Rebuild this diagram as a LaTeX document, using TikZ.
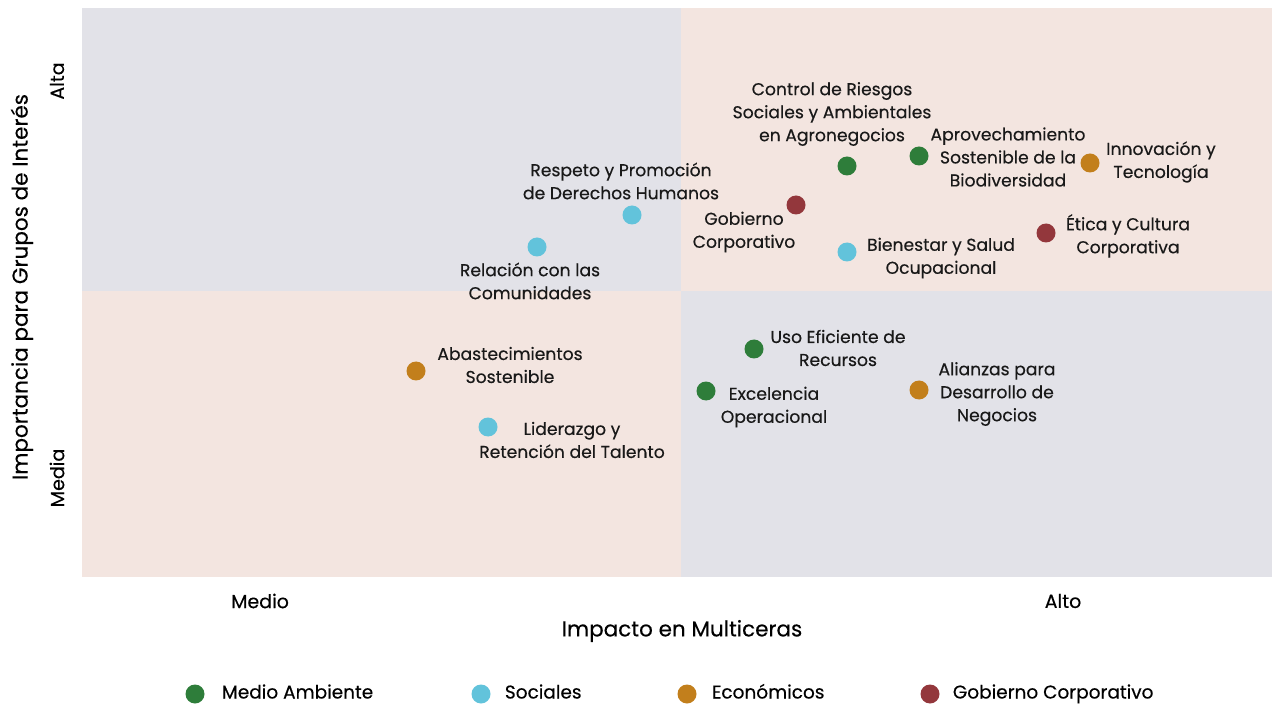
\documentclass[tikz,border=0pt]{standalone}
\usepackage{fontspec}
\setmainfont{Poppins}[FakeBold=0.35]
\usetikzlibrary{positioning}

\definecolor{ambiente}{HTML}{2E7D3A}
\definecolor{sociales}{HTML}{62C3DB}
\definecolor{economicos}{HTML}{C27F1C}
\definecolor{gobierno}{HTML}{93373C}
\definecolor{grisfondo}{HTML}{E2E2E8}
\definecolor{rosafondo}{HTML}{F3E5E0}

\begin{document}
\begin{tikzpicture}[
    x=1pt, y=-1pt,
    dot/.style={circle, fill=#1, minimum size=19pt, inner sep=0pt},
    tema/.style={align=center, font=\fontsize{17.2}{23}\selectfont, inner sep=0pt, text=black!90},
    eje/.style={font=\fontsize{19}{22}\selectfont, inner sep=0pt},
    leyenda/.style={font=\fontsize{18.5}{22}\selectfont, inner sep=0pt, text height=13.5pt, text depth=4.5pt},
    titulo/.style={font=\fontsize{21.5}{26}\selectfont, inner sep=0pt}
]

    \useasboundingbox (0,0) rectangle (1274,708);

    % Quadrants
    \fill[grisfondo] (82,8) rectangle (681,291);
    \fill[rosafondo] (681,8) rectangle (1272,291);
    \fill[rosafondo] (82,291) rectangle (681,577);
    \fill[grisfondo] (681,291) rectangle (1272,577);

    % Nodes
    \node[dot=ambiente] (riesgos) at (847,166) {};
    \node[dot=ambiente] (biodiv) at (919,156) {};
    \node[dot=economicos] (innov) at (1090,163) {};
    \node[dot=gobierno] (gobcorp) at (796,205) {};
    \node[dot=gobierno] (etica) at (1046,233) {};
    \node[dot=sociales] (bienestar) at (847,252) {};
    \node[dot=sociales] (ddhh) at (632,215) {};
    \node[dot=sociales] (comunid) at (537,247) {};
    \node[dot=economicos] (abast) at (416,371) {};
    \node[dot=sociales] (talento) at (488,427) {};
    \node[dot=ambiente] (recursos) at (754,349) {};
    \node[dot=ambiente] (excel) at (706,391) {};
    \node[dot=economicos] (alianzas) at (919,390) {};

    % Labels
    \node[tema] (riesgos_lbl) at (832,114) {Control de Riesgos\\Sociales y Ambientales\\en Agronegocios};
    \node[tema] (biodiv_lbl) at (1008,157) {Aprovechamiento\\Sostenible de la\\Biodiversidad};
    \node[tema] (innov_lbl) at (1161,162) {Innovación y\\Tecnología};
    \node[tema] (gobcorp_lbl) at (744,232) {Gobierno\\Corporativo};
    \node[tema] (etica_lbl) at (1128,236) {Ética y Cultura\\Corporativa};
    \node[tema] (bienestar_lbl) at (941,258) {Bienestar y Salud\\Ocupacional};
    \node[tema] (ddhh_lbl) at (621,181) {Respeto y Promoción\\de Derechos Humanos};
    \node[tema] (comunid_lbl) at (530,281) {Relación con las\\Comunidades};
    \node[tema] (abast_lbl) at (510,365) {Abastecimientos\\Sostenible};
    \node[tema] (talento_lbl) at (572,440) {Liderazgo y\\Retención del Talento};
    \node[tema] (recursos_lbl) at (838,348) {Uso Eficiente de\\Recursos};
    \node[tema] (excel_lbl) at (774,407) {Excelencia\\Operacional};
    \node[tema] (alianzas_lbl) at (997,394) {Alianzas para\\Desarrollo de\\Negocios};

    % Axes
    \node[eje] (medio) at (260,601) {Medio};
    \node[eje] (alto) at (1063,601) {Alto};
    \node[titulo] (xtitulo) at (682,631) {Impacto en Multiceras};
    \node[eje, rotate=90] (alta) at (57,81) {Alta};
    \node[eje, rotate=90] (media) at (57,478) {Media};
    \node[titulo, rotate=90] (ytitulo) at (22,287) {Importancia para Grupos de Interés};

    % Legend
    \node[dot=ambiente] (ley1) at (195,694) {};
    \node[leyenda, right=17pt of ley1] {Medio Ambiente};
    \node[dot=sociales] (ley2) at (481,694) {};
    \node[leyenda, right=14pt of ley2] {Sociales};
    \node[dot=economicos] (ley3) at (687,694) {};
    \node[leyenda, right=15pt of ley3] {Económicos};
    \node[dot=gobierno] (ley4) at (930,694) {};
    \node[leyenda, right=13pt of ley4] {Gobierno Corporativo};

\end{tikzpicture}
\end{document}
